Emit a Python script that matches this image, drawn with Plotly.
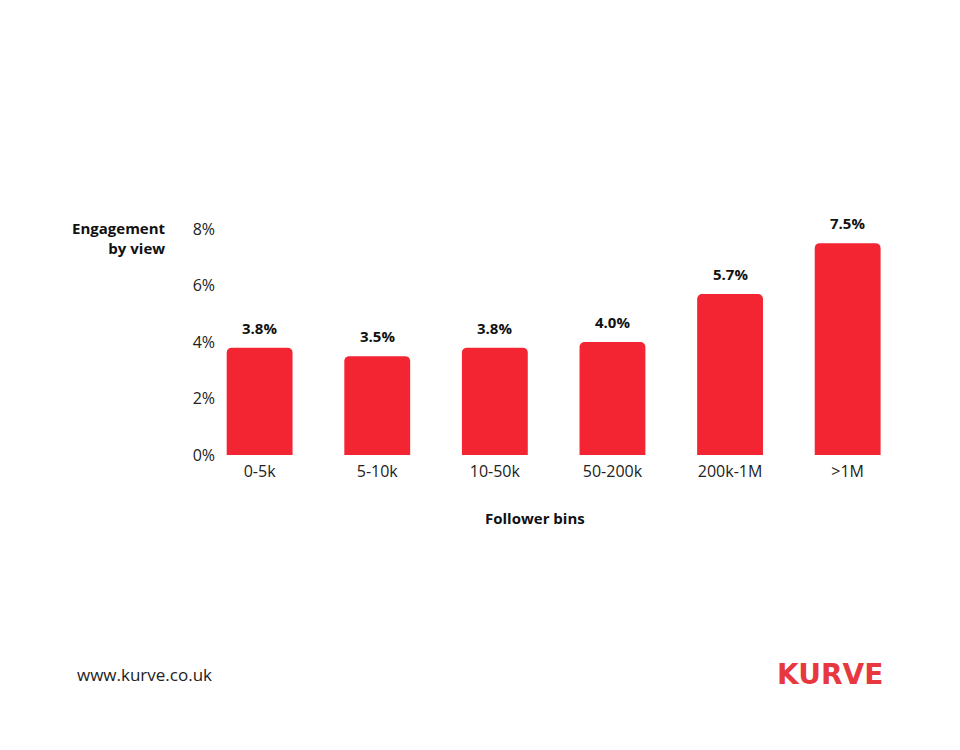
import plotly.graph_objects as go

categories = ["0-5k", "5-10k", "10-50k", "50-200k", "200k-1M", ">1M"]
engagement = [3.8, 3.5, 3.8, 4.0, 5.7, 7.5]
y_ticks = [0, 2, 4, 6, 8]
y_tick_labels = ["0%", "2%", "4%", "6%", "8%"]

FONT = "Open Sans"
RED = "#F42532"

fig = go.Figure(go.Bar(
    x=categories,
    y=engagement,
    marker=dict(color=RED, line=dict(width=0)),
    cliponaxis=False,
    hoverinfo="skip",
))

bar_labels = [
    dict(x=c, y=v, xref="x", yref="y", text=f"<b>{v:.1f}%</b>", showarrow=False,
         xanchor="center", yanchor="bottom", yshift=8,
         font=dict(family=FONT, size=15, color="#111111"))
    for c, v in zip(categories, engagement)
]

fig.update_layout(
    width=960, height=750,
    margin=dict(l=214, r=62, t=221, b=303),
    paper_bgcolor="white", plot_bgcolor="white",
    bargap=0.44,
    barcornerradius=5,
    showlegend=False,
    font=dict(family=FONT, color="#222222"),
    xaxis=dict(range=[-0.32, 5.496], showgrid=False, showline=False, ticks="", ticklabelstandoff=5,
               tickfont=dict(size=16, family=FONT, color="#222222")),
    yaxis=dict(range=[0, 8], tickvals=y_ticks, ticktext=y_tick_labels, showgrid=False, zeroline=False,
               showline=False, ticks="", ticklabelstandoff=6,
               tickfont=dict(size=16, family=FONT, color="#222222")),
    annotations=bar_labels + [
        dict(text="<b>Engagement<br>by view</b>", xref="paper", yref="paper", x=-0.079, y=0.958,
             xanchor="right", yanchor="middle", align="right", showarrow=False,
             font=dict(size=15, family=FONT, color="#111111")),
        dict(text="<b>Follower bins</b>", xref="paper", yref="paper", x=0.4576, y=-0.279,
             xanchor="center", yanchor="middle", showarrow=False,
             font=dict(size=15, family=FONT, color="#111111")),
        dict(text="www.kurve.co.uk", xref="paper", yref="paper", x=-0.215, y=-0.973,
             xanchor="left", yanchor="middle", showarrow=False,
             font=dict(size=17, family=FONT, color="#222222")),
        dict(text="<b>KURVE</b>", xref="paper", yref="paper", x=0.969, y=-0.973,
             xanchor="right", yanchor="middle", showarrow=False,
             font=dict(size=28, family="DejaVu Sans", color="#E8383F")),
    ],
)

fig.write_html("out.html")
